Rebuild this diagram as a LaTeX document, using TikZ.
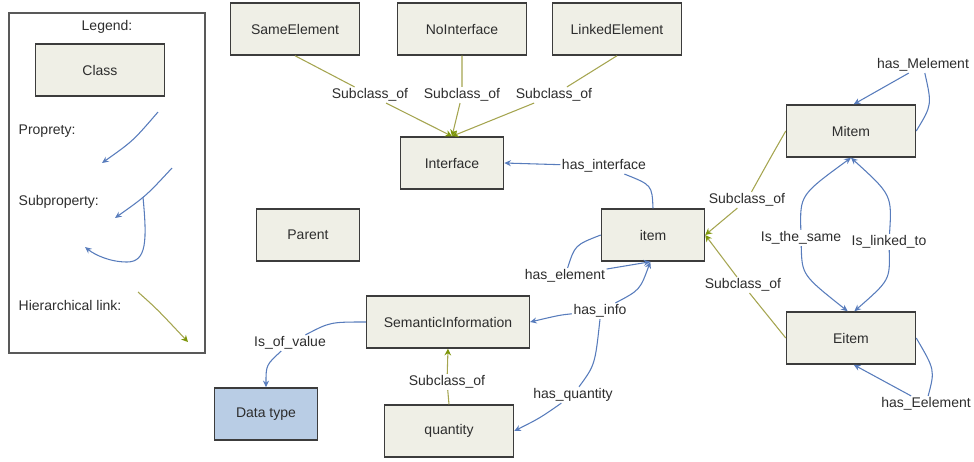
\documentclass[tikz,border=0pt]{standalone}
\usepackage{fontspec}
\setmainfont{Liberation Sans}
\usetikzlibrary{arrows.meta}
\definecolor{boxfill}{RGB}{239,239,230}
\definecolor{boxline}{RGB}{60,60,60}
\definecolor{propblue}{RGB}{88,124,188}
\definecolor{hierol}{RGB}{165,165,80}
\definecolor{hiertip}{RGB}{125,150,10}
\definecolor{dtfill}{RGB}{185,205,229}
\definecolor{txt}{RGB}{45,45,45}
\begin{document}
\begin{tikzpicture}[x=0.75pt,y=-0.75pt,
  font=\fontsize{10.5}{12}\selectfont, text=txt,
  cls/.style={draw=boxline, line width=1.1pt, fill=boxfill, minimum width=96.75pt, minimum height=39pt, inner sep=0pt},
  narrow/.style={minimum width=77.25pt},
  lbl/.style={fill=white, inner sep=1pt},
  prop/.style={draw=propblue, line width=0.8pt, -{Stealth[length=5pt,width=4.5pt]}},
  propline/.style={draw=propblue, line width=0.8pt},
  hier/.style={draw=hierol, line width=0.8pt, -{Stealth[length=5pt,width=5pt,color=hiertip]}}]
\useasboundingbox (0,0) rectangle (974,461);

% Legend
\draw[draw=black!65, line width=1.1pt] (9,13) rectangle (205,353);
\node (legt) at (107,27) {Legend:};
\node[cls] (class) at (100,70) {Class};
\node[anchor=west] (lprop) at (14,131) {Proprety:};
\coordinate (pa1) at (158,112); \coordinate (pa2) at (102,163);
\draw[prop] (pa1) .. controls (133,141) .. (pa2);
\node[anchor=west] (lsub) at (14,202) {Subproperty:};
\coordinate (sa1) at (172,168); \coordinate (sa2) at (115,218);
\draw[prop] (sa1) .. controls (146,196) .. (sa2);
\coordinate (sb1) at (143,197); \coordinate (sb2) at (85,247);
\draw[prop] (sb1) .. controls (147,240) and (147,262) .. (127,262) .. controls (110,262) and (95,255) .. (sb2);
\node[anchor=west] (lhier) at (14,305) {Hierarchical link:};
\coordinate (hl1) at (138,292); \coordinate (hl2) at (188,342);
\draw[hier] (hl1) .. controls (157,309) .. (hl2);

% Classes
\node[cls] (same) at (295,29) {SameElement};
\node[cls] (noint) at (462,29) {NoInterface};
\node[cls] (linked) at (617,29) {LinkedElement};
\node[cls,narrow] (iface) at (452,163) {Interface};
\node[cls,narrow] (parent) at (308,235) {Parent};
\node[cls,minimum width=122pt] (sem) at (448,322) {SemanticInformation};
\node[cls,narrow,fill=dtfill] (dtype) at (266,414) {Data type};
\node[cls] (qty) at (449,431) {quantity};
\node[cls,narrow] (item) at (653,235) {item};
\node[cls] (mitem) at (851,131) {Mitem};
\node[cls] (eitem) at (851,338) {Eitem};

% Labels
\node[lbl] (s1) at (370,95) {Subclass\_of};
\node[lbl] (s2) at (462,95) {Subclass\_of};
\node[lbl] (s3) at (554,95) {Subclass\_of};
\node[lbl] (hi) at (604,166) {has\_interface};
\node[lbl] (s4) at (747,200) {Subclass\_of};
\node[lbl] (s5) at (743,285) {Subclass\_of};
\node[lbl] (lsame) at (801,238) {Is\_the\_same};
\node[lbl] (llink) at (889,242) {Is\_linked\_to};
\node[lbl] (hm) at (923,65) {has\_Melement};
\node[lbl] (he) at (926,404) {has\_Eelement};
\node[lbl] (hel) at (565,276) {has\_element};
\node[lbl] (hinfo) at (600,311) {has\_info};
\node[lbl] (hq) at (573,395) {has\_quantity};
\node[lbl] (iov) at (290,343) {Is\_of\_value};
\node[lbl] (s6) at (447,382) {Subclass\_of};

% Hierarchical links
\draw[hier] (same.south) -- (s1) -- (iface.north);
\draw[hier] (noint.south) -- (s2) -- (iface.north);
\draw[hier] (linked.south) -- (s3) -- (iface.north);
\draw[hier] (mitem.west) .. controls (772,155) .. (s4) -- (item.east);
\draw[hier] (eitem.west) -- (s5) -- (item.east);
\draw[hier] (qty.north) -- (s6) -- (sem.south);

% Properties
\draw[prop] (item.north) .. controls (652,185) .. (hi) -- (iface.east);
\draw[prop] (lsame) .. controls (800,195) .. (mitem.south);
\draw[prop] (lsame) .. controls (802,275) .. ([xshift=-2.5pt]eitem.north);
\draw[prop] (llink) .. controls (892,195) .. (mitem.south);
\draw[prop] (llink) .. controls (890,280) .. ([xshift=2.5pt]eitem.north);
\draw[prop] (mitem.east) .. controls (932,105) .. (hm) -- ([xshift=2pt]mitem.north);
\draw[prop] (eitem.east) .. controls (935,370) .. (he) -- ([xshift=2pt]eitem.south);
\draw[prop] (item.west) .. controls (575,245) .. (hel) -- ([xshift=-2pt]item.south);
\draw[prop] (hinfo) .. controls (640,290) .. ([xshift=-2pt]item.south);
\draw[prop] (hinfo) .. controls (560,315) .. (sem.east);
\draw[prop] (hinfo.south) .. controls (595,365) .. (hq) .. controls (540,418) .. (qty.east);
\draw[propline] (sem.west) .. controls (330,322) .. (iov);
\draw[prop] (iov) .. controls (266,365) .. (dtype.north);
\end{tikzpicture}
\end{document}
